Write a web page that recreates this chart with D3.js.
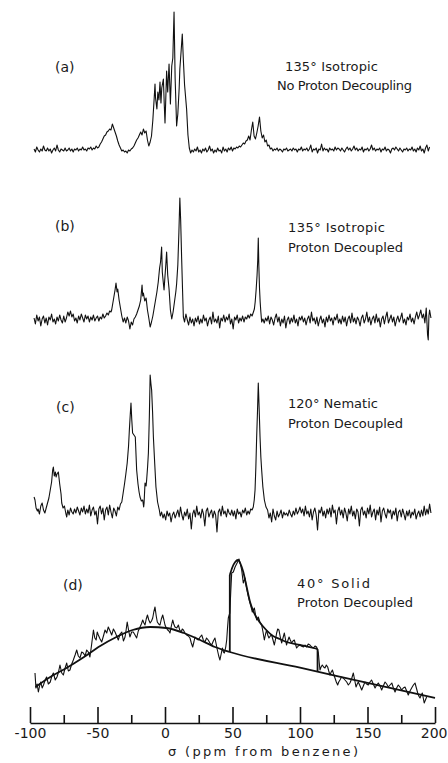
<!DOCTYPE html>
<html>
<head>
<meta charset="utf-8">
<script src="https://cdn.jsdelivr.net/npm/d3@7"></script>
<style>
body { margin: 0; background: #fff; }
svg { display: block; background: #fff; }
.trace { fill: none; stroke: #111; stroke-width: 1.1; stroke-linejoin: round; }
.fit { fill: none; stroke: #111; stroke-width: 1.8; }
.lbl { font-family: "DejaVu Sans", sans-serif; font-size: 13px; fill: #1a1a1a; }
.tag { font-family: "DejaVu Sans", sans-serif; font-size: 14px; fill: #1a1a1a; }
.axis path, .axis line { stroke: #111; stroke-width: 1.6; }
.axis text { font-family: "DejaVu Sans", sans-serif; font-size: 14px; fill: #1a1a1a; }
</style>
</head>
<body>
<div id="chart"></div>
<script>
// ---- data: [ppm, intensity above baseline] ----
var specA = [[-97,1],[-96,-2],[-95,3],[-94,0],[-93,-2],[-92,1],[-91,-1],[-90,4],[-89,0],[-88,-1],[-87,2],[-86,-1],[-85,1],[-84,-3],[-83,0],[-82,2],[-81,-1],[-80,5],[-79,0],[-78,-2],[-77,1],[-76,0],[-75,-1],[-74,2],[-73,-1],[-72,0],[-71,2],[-70,-1],[-69,1],[-68,-2],[-67,1],[-66,0],[-65,2],[-64,-1],[-63,1],[-62,0],[-61,3],[-60,0],[-59,1],[-58,-1],[-57,2],[-56,1],[-55,3],[-54,0],[-53,2],[-52,1],[-51,4],[-50,2],[-49,3],[-48,6],[-47,8],[-46,11],[-45,14],[-44,15],[-43,18],[-42,19],[-41,21],[-40,20],[-39,26],[-38,22],[-37,18],[-36,14],[-35,9],[-34,5],[-33,2],[-32,-1],[-31,0],[-30,-2],[-29,-1],[-28,-3],[-27,0],[-26,-1],[-25,1],[-24,2],[-23,4],[-22,7],[-21,10],[-20,12],[-19,15],[-18,18],[-17,15],[-16,21],[-15,17],[-14,19],[-13,10],[-12,4],[-11,8],[-10,14],[-9,30],[-8,52],[-7.4,66],[-7,52],[-6,41],[-5.3,58],[-4.5,50],[-3.7,68],[-3,47],[-2.4,62],[-1.2,71],[-0.5,44],[0,27],[0.6,52],[1.2,79],[2,58],[3,86],[4,46],[5,84],[5.8,92],[6.7,138],[7.5,72],[8.6,24],[9.5,36],[10.5,62],[11,81],[12,100],[12.8,116],[13.6,90],[14.5,65],[16,41],[17,15],[18,2],[19,-3],[20,0],[21,-2],[22,1],[23,-1],[24,3],[25,-2],[26,0],[27,-3],[28,1],[29,-1],[30,2],[31,-2],[32,0],[33,4],[34,-1],[35,1],[36,-3],[37,0],[38,-2],[39,2],[40,-1],[41,0],[42,-3],[43,3],[44,-1],[45,1],[46,-2],[47,2],[48,0],[49,3],[50,-1],[51,2],[52,1],[53,3],[54,2],[55,4],[56,3],[57,5],[58,7],[59,6],[60,9],[61,10],[62,14],[63,10],[64,20],[65,28],[66,14],[67,11],[68,17],[69,24],[70,33],[71,19],[72,12],[73,15],[74,8],[75,10],[76,4],[77,5],[78,1],[79,2],[80,-1],[81,1],[82,0],[83,2],[84,-1],[85,1],[86,0],[87,-2],[88,1],[89,0],[90,2],[91,-1],[92,0],[93,1],[94,-1],[95,2],[96,0],[97,1],[98,-2],[99,1],[100,0],[101,3],[102,-1],[103,1],[104,0],[105,2],[106,-1],[107,1],[108,5],[109,-2],[110,1],[111,0],[112,2],[113,-3],[114,1],[115,0],[116,6],[117,-1],[118,2],[119,0],[120,1],[121,-2],[122,2],[123,0],[124,1],[125,-1],[126,3],[127,0],[128,2],[129,1],[130,-1],[131,2],[132,0],[133,-2],[134,1],[135,3],[136,0],[137,2],[138,-1],[139,1],[140,4],[141,0],[142,2],[143,-1],[144,1],[145,0],[146,3],[147,-2],[148,1],[149,0],[150,2],[151,-1],[152,1],[153,5],[154,0],[155,2],[156,-1],[157,1],[158,0],[159,2],[160,-2],[161,1],[162,0],[163,3],[164,-1],[165,1],[166,0],[167,-3],[168,1],[169,2],[170,0],[171,3],[172,1],[173,-1],[174,2],[175,0],[176,-2],[177,1],[178,0],[179,2],[180,-1],[181,1],[182,0],[183,3],[184,-1],[185,1],[186,-2],[187,2],[188,0],[189,4],[190,-1],[191,1],[192,-3],[193,2],[194,5],[195,-1],[196,3]];

var specB = [[-97,2],[-96,-4],[-95,5],[-94,-1],[-93,3],[-92,-6],[-91,1],[-90,4],[-89,-3],[-88,2],[-87,-5],[-86,3],[-85,0],[-84,6],[-83,-2],[-82,1],[-81,-4],[-80,3],[-79,-1],[-78,5],[-77,0],[-76,-3],[-75,4],[-74,-2],[-73,2],[-72,8],[-71,4],[-70,9],[-69,3],[-68,6],[-67,-1],[-66,2],[-65,-3],[-64,4],[-63,0],[-62,6],[-61,2],[-60,-2],[-59,5],[-58,1],[-57,4],[-56,-2],[-55,3],[-54,0],[-53,5],[-52,-1],[-51,2],[-50,4],[-49,-1],[-48,3],[-47,1],[-46,6],[-45,2],[-44,4],[-43,7],[-42,5],[-41,9],[-40,8],[-39.5,10],[-39,14],[-38,22],[-37,30],[-36.3,37],[-35.5,28],[-35,31],[-34,20],[-33,12],[-32,4],[-31,-2],[-30,2],[-29,-3],[-28,3],[-27,-1],[-26,-9],[-25,-2],[-24,-5],[-23,1],[-22,3],[-21,6],[-20,10],[-19,14],[-18,20],[-17,35],[-16.5,24],[-16,27],[-15,19],[-14,22],[-13,10],[-12,2],[-11,-7],[-10,-2],[-9,4],[-8,12],[-7,20],[-6,28],[-5,38],[-4,52],[-3.3,58],[-2.5,73],[-2,48],[-1.3,38],[-0.7,30],[0,44],[0.6,55],[1.2,68],[2,45],[3,31],[4,10],[5,1],[6,8],[7,18],[8,28],[8.6,36],[9.5,55],[10.3,88],[11,122],[11.6,100],[12.3,63],[13,30],[13.6,3],[14.5,-2],[15.5,6],[16.5,0],[17.5,-5],[18.5,3],[19.5,-3],[20.5,1],[21.5,-6],[22.5,2],[23.5,-2],[24.5,4],[25.5,-4],[26.5,1],[27.5,-3],[28.5,5],[29.5,-1],[30.5,2],[31.5,-6],[32.5,0],[33.5,3],[34.5,-4],[35.5,8],[36.5,-2],[37.5,1],[38.5,-3],[39.5,4],[40.5,-8],[41.5,2],[42.5,-1],[43.5,5],[44.5,-2],[45.5,3],[46.5,0],[47.5,6],[48.5,-4],[49.5,1],[50.5,-9],[51.5,3],[52.5,0],[53.5,5],[54.5,-3],[55.5,2],[56.5,-1],[57.5,4],[58.5,-2],[59.5,3],[60.5,1],[61.5,5],[62.5,2],[63.5,6],[64.5,4],[65.5,8],[66.2,11],[66.8,18],[67.5,30],[68.2,45],[68.7,60],[69.1,82],[69.5,55],[70,32],[70.5,18],[71,8],[71.6,-2],[72.5,1],[73.5,-3],[74.5,2],[75.5,-1],[76.5,4],[77.5,-4],[78.5,3],[79.5,0],[80.5,-5],[81.5,2],[82.5,6],[83.5,-2],[84.5,3],[85.5,-6],[86.5,1],[87.5,-3],[88.5,4],[89.5,-8],[90.5,0],[91.5,3],[92.5,-4],[93.5,2],[94.5,-2],[95.5,5],[96.5,-3],[97.5,1],[98.5,-6],[99.5,3],[100.5,0],[101.5,4],[102.5,-2],[103.5,2],[104.5,-5],[105.5,1],[106.5,4],[107.5,-3],[108.5,8],[109.5,-1],[110.5,2],[111.5,-4],[112.5,3],[113.5,-6],[114.5,0],[115.5,4],[116.5,-3],[117.5,1],[118.5,-7],[119.5,3],[120.5,-2],[121.5,5],[122.5,-1],[123.5,2],[124.5,-5],[125.5,3],[126.5,0],[127.5,6],[128.5,-3],[129.5,1],[130.5,-4],[131.5,4],[132.5,-2],[133.5,3],[134.5,-6],[135.5,1],[136.5,4],[137.5,-3],[138.5,7],[139.5,-2],[140.5,2],[141.5,-4],[142.5,3],[143.5,0],[144.5,-6],[145.5,2],[146.5,5],[147.5,-3],[148.5,1],[149.5,8],[150.5,-2],[151.5,3],[152.5,-5],[153.5,1],[154.5,4],[155.5,-3],[156.5,6],[157.5,-2],[158.5,2],[159.5,-7],[160.5,1],[161.5,4],[162.5,-4],[163.5,3],[164.5,8],[165.5,-3],[166.5,1],[167.5,5],[168.5,-2],[169.5,3],[170.5,-6],[171.5,0],[172.5,4],[173.5,-2],[174.5,2],[175.5,7],[176.5,-3],[177.5,1],[178.5,-5],[179.5,3],[180.5,0],[181.5,6],[182.5,-2],[183.5,2],[184.5,-4],[185.5,3],[186.5,8],[187.5,1],[188.5,5],[189.5,10],[190.5,2],[191.5,6],[192.5,-3],[193.5,12],[194.5,-15],[195,-20],[195.5,4],[196,10],[197,2]];

var specC = [[-97,15],[-96.3,12],[-95.5,4],[-94.5,1],[-94,3],[-93,-2],[-92,6],[-91,9],[-90,2],[-89,-1],[-88,4],[-87,9],[-86,14],[-85,22],[-84,30],[-83.2,42],[-82.7,45],[-82,36],[-81.2,40],[-80.7,35],[-80,38],[-79,40],[-78,28],[-77,18],[-76.5,9],[-75.5,4],[-74.5,6],[-73.5,-1],[-72.8,-5],[-72,2],[-71,-3],[-70,4],[-69,0],[-68,-2],[-67,3],[-66,-1],[-65,5],[-64,1],[-63,-3],[-62,4],[-61,0],[-60,6],[-59,-2],[-58,3],[-57,-1],[-56,7],[-55,-4],[-54,2],[-53,5],[-52,-3],[-51,1],[-50,-12],[-49,3],[-48,6],[-47,-2],[-46,4],[-45,-8],[-44,2],[-43,5],[-42,-3],[-41,7],[-40,0],[-39,-6],[-38,4],[-37,1],[-36,-4],[-35,5],[-34,2],[-33,8],[-32,10],[-31,19],[-30,28],[-29,38],[-28,49],[-27,66],[-26.4,82],[-25.8,96],[-25.2,109],[-24.6,92],[-24,79],[-23,77],[-22,75],[-21,42],[-20,28],[-19.2,20],[-18.5,15],[-17.5,11],[-16.5,12],[-15.8,5],[-15.5,9],[-14.8,29],[-14,26],[-13.6,32],[-12.9,45],[-12.3,59],[-11.6,95],[-11,137],[-10.4,128],[-9.9,122],[-9.2,100],[-8.6,75],[-7.6,48],[-6.7,25],[-5.5,10],[-4.2,2],[-3.5,-4],[-2.5,0],[-1.5,-6],[-0.5,-2],[0.5,-8],[1.5,1],[2.5,-4],[3.5,-1],[4.5,-10],[5.5,-3],[6.5,0],[7.5,-6],[8.5,-2],[9.5,2],[10.5,-5],[11.5,5],[12.5,-3],[13.5,-8],[14.5,0],[15.5,-4],[16.5,3],[17.5,-7],[18.5,-1],[19.5,-17],[20.5,-2],[21.5,2],[22.5,-5],[23.5,6],[24.5,-3],[25.5,0],[26.5,-6],[27.5,3],[28.5,-2],[29.5,-14],[30.5,1],[31.5,4],[32.5,-5],[33.5,-1],[34.5,2],[35.5,-6],[36.5,1],[37.5,-3],[38.5,-20],[39.5,0],[40.5,3],[41.5,-4],[42.5,6],[43.5,-2],[44.5,1],[45.5,-5],[46.5,3],[47.5,-1],[48.5,-3],[49.5,2],[50.5,-4],[51.5,1],[52.5,-7],[53.5,3],[54.5,-2],[55.5,0],[56.5,-5],[57.5,2],[58.5,-1],[59.5,4],[60.5,-3],[61.5,1],[62.5,-2],[63.5,3],[64.5,2],[65.4,5],[66.1,12],[66.7,22],[67.3,45],[67.9,75],[68.5,100],[69.1,129],[69.7,105],[70.4,75],[71,55],[71.6,42],[72.5,25],[73.6,12],[74.8,5],[76,2],[77,-6],[78,-1],[79,-10],[80,3],[81,-4],[82,-8],[83,1],[84,-5],[85,-2],[86,2],[87,-6],[88,0],[89,-3],[90,-1],[91,-4],[92,2],[93,-2],[94,-5],[95,1],[96,-3],[97,4],[98,-2],[99,1],[100,5],[101,-1],[102,3],[103,-4],[104,6],[105,-2],[106,1],[107,-5],[108,3],[109,-8],[110,0],[111,4],[112,-3],[113,-18],[114,2],[115,-1],[116,5],[117,-4],[118,1],[119,-6],[120,3],[121,-2],[122,4],[123,-5],[124,7],[125,-1],[126,2],[127,-12],[128,1],[129,5],[130,-3],[131,2],[132,-6],[133,4],[134,-1],[135,-9],[136,3],[137,-2],[138,6],[139,-4],[140,1],[141,-7],[142,3],[143,0],[144,-14],[145,2],[146,5],[147,-3],[148,1],[149,-6],[150,4],[151,-2],[152,7],[153,-5],[154,0],[155,3],[156,-8],[157,2],[158,-3],[159,5],[160,-10],[161,1],[162,4],[163,-2],[164,-6],[165,3],[166,-1],[167,2],[168,-7],[169,1],[170,-3],[171,4],[172,-9],[173,0],[174,2],[175,-5],[176,3],[177,-2],[178,-8],[179,1],[180,-4],[181,2],[182,-6],[183,0],[184,-3],[185,3],[186,-7],[187,-2],[188,1],[189,-5],[190,2],[191,-4],[192,6],[193,-3],[194,3],[195,-2],[196,8],[197,-1]];

var specD = [[-96.3,37],[-95.6,22],[-94.7,26],[-93.8,18],[-92.9,24],[-92,28],[-91,22],[-90,25],[-88.8,30],[-87.7,33],[-86.4,26],[-85,28],[-83.8,34],[-82.7,37],[-81.3,30],[-80,33],[-78.9,38],[-77.8,45],[-76.5,37],[-75.3,35],[-74,42],[-72.8,47],[-71.6,39],[-70.4,40],[-69.1,46],[-67.9,50],[-66.6,55],[-65.4,60],[-64.2,54],[-63,52],[-61.7,58],[-60.5,57],[-59.2,54],[-58,60],[-56.8,58],[-55.6,53],[-54.3,66],[-53,80],[-52,72],[-51,70],[-50.2,78],[-49.4,75],[-48.1,71],[-46.9,68],[-45.6,74],[-44.4,80],[-43.2,77],[-42,83],[-40.7,79],[-39.5,75],[-38.2,81],[-37,78],[-35.8,74],[-34.6,70],[-33.3,76],[-32,78],[-30.8,69],[-29.6,73],[-28.8,80],[-28,88],[-27,80],[-26,73],[-24.7,78],[-23.5,78],[-22.2,75],[-21,72],[-19.8,79],[-18.5,83],[-17.5,86],[-16.5,90],[-15.6,87],[-14.8,85],[-13.9,91],[-13,95],[-12,90],[-11,87],[-10,89],[-9.1,92],[-8.3,98],[-7.4,103],[-6.5,94],[-5.7,88],[-4.7,86],[-3.7,85],[-2.7,91],[-1.7,95],[-0.8,90],[0,85],[1,82],[2,80],[2.9,79],[3.7,77],[4.7,84],[5.7,90],[6.5,86],[7.4,83],[8.7,82],[9.9,85],[10.9,80],[11.9,78],[12.8,81],[13.6,80],[14.8,77],[16,75],[17.3,74],[18.5,72],[19.5,67],[20.5,63],[21.4,68],[22.2,73],[23.5,71],[24.7,70],[26,73],[27.2,75],[28.4,70],[29.6,68],[30.8,72],[32,70],[33.3,67],[34.6,65],[35.8,69],[37,72],[37.9,66],[38.8,60],[39.8,54],[40.7,50],[41.6,56],[42.5,62],[43.3,58],[44,57],[45,63],[45.7,70],[46.3,82],[46.9,92],[48,97],[48.7,118],[49.4,137],[50.6,138],[51.9,143],[53.4,147],[54.8,151],[55.8,146],[56.8,140],[58,127],[59.3,132],[60.2,124],[61.2,117],[62.1,112],[63,107],[63.8,103],[64.7,98],[66.2,102],[67.1,95],[67.9,90],[69.1,93],[70.3,88],[71.6,85],[72.6,78],[73.6,70],[74.5,76],[75.3,80],[76.1,75],[77,72],[78,74],[79,75],[80,70],[81,65],[81.9,71],[82.7,77],[83.5,81],[84.4,80],[85.4,73],[86.4,67],[87.4,72],[88.4,77],[89.2,71],[90,65],[90.9,69],[91.9,73],[92.8,70],[93.8,67],[94.8,69],[95.8,70],[96.6,66],[97.5,62],[98.7,64],[100,65],[101.2,64],[102.5,63],[103.7,65],[104.9,63],[106.1,66],[107.4,65],[108.7,63],[109.9,62],[111.1,64],[112.3,63],[113,60],[113.6,57],[114.2,48],[114.8,40],[115.6,43],[116.5,45],[117.5,43],[118.5,42],[119.5,45],[120.5,43],[121.3,39],[122.2,35],[123.1,38],[124,40],[124.9,36],[125.9,32],[126.9,28],[127.9,25],[128.7,28],[129.6,30],[130.8,33],[132,32],[133.3,30],[134.6,28],[135.8,25],[137,27],[138.2,31],[139.5,37],[140.5,30],[141.5,23],[142.4,26],[143.2,28],[144.5,24],[145.7,20],[146.9,24],[148.1,28],[149.3,26],[150.6,25],[151.8,28],[153,30],[154.3,26],[155.6,22],[156.8,25],[158,27],[159.3,24],[160.5,20],[161.7,24],[163,28],[164.2,26],[165.4,23],[166.7,25],[168,27],[169.2,22],[170.4,18],[171.6,22],[172.8,25],[174,23],[175.3,20],[176.5,22],[177.8,23],[179,19],[180.2,15],[181.5,19],[182.7,22],[184,25],[185.2,27],[186.2,22],[187.2,17],[188,14],[188.9,12],[189.8,15],[190.6,17],[191.3,12],[192,7],[192.9,10],[193.8,13]];

// smooth fits drawn through spectrum (d)
var fitBroad = [[-96,23],[-85,33],[-73,42],[-60,53],[-48,64],[-36,73],[-24,80],[-11,83],[1,82],[14,77],[26,70],[37,63],[48,58],[100,42.3],[150,27.1],[200,12]];
var fitPowder = [[48,135],[50,143],[52,148],[54,150],[56,146],[58,138],[60,126],[63,108],[66,97],[70,88],[75,80],[80,74],[85,71],[90,68],[100,65],[110,62],[113,61]];
var powderEdges = [[[48,58],[48,135]], [[113,61],[113,38.3]]];

// labels
var panelTags = ["(a)", "(b)", "(c)", "(d)"];
var panelTitles = [
    ["135\u00b0 Isotropic", "No Proton Decoupling"],
    ["135\u00b0 Isotropic", "Proton Decoupled"],
    ["120\u00b0 Nematic", "Proton Decoupled"],
    ["40\u00b0 Solid", "Proton Decoupled"]
];
var majorTicks = [-100, -50, 0, 50, 100, 150, 200];
var minorTicks = [-75, -25, 25, 75, 125, 175];
var axisTitle = "\u03c3 (ppm from benzene)";

// ---- layout ----
var width = 448, height = 763;
var axisY = 723;

var svg = d3.select("#chart")
    .append("svg")
    .attr("width", width)
    .attr("height", height);

var x = d3.scaleLinear().domain([-100, 200]).range([30, 435]);

// one y scale per stacked trace, 1 unit = 1 px above its baseline
var panels = [
    { spec: specA, base: 150, tag: [55, 72], t1: [285, 71, 93], t2: [277, 90, 135] },
    { spec: specB, base: 320, tag: [55, 231], t1: [288, 232, 97], t2: [288, 252, 115] },
    { spec: specC, base: 512, tag: [56, 412], t1: [288, 408, 90], t2: [288, 428, 115] },
    { spec: specD, base: 710, tag: [63, 590], t1: [297, 588, 73], t2: [297, 607, 116] }
];

panels.forEach(function (p, i) {
    var y = d3.scaleLinear().domain([0, 100]).range([p.base, p.base - 100]);
    p.y = y;

    var line = d3.line()
        .x(function (d) { return x(d[0]); })
        .y(function (d) { return y(d[1]); });

    svg.append("path")
        .datum(p.spec)
        .attr("class", "trace")
        .attr("d", line);

    svg.append("text")
        .attr("class", "tag")
        .attr("x", p.tag[0]).attr("y", p.tag[1])
        .text(panelTags[i]);

    [p.t1, p.t2].forEach(function (t, j) {
        svg.append("text")
            .attr("class", "lbl")
            .attr("x", t[0]).attr("y", t[1])
            .attr("textLength", t[2]).attr("lengthAdjust", "spacing")
            .text(panelTitles[i][j]);
    });
});

// fitted curves for (d)
var yD = panels[3].y;
var smooth = d3.line()
    .x(function (d) { return x(d[0]); })
    .y(function (d) { return yD(d[1]); })
    .curve(d3.curveMonotoneX);
var straight = d3.line()
    .x(function (d) { return x(d[0]); })
    .y(function (d) { return yD(d[1]); });

svg.append("path").datum(fitBroad).attr("class", "fit").attr("d", smooth);
svg.append("path").datum(fitPowder).attr("class", "fit").attr("d", smooth);
powderEdges.forEach(function (seg) {
    svg.append("path").datum(seg).attr("class", "fit").attr("stroke-width", 1.2).attr("d", straight);
});

// x axis: tall major ticks, short minor ticks, pointing up
var axisG = svg.append("g")
    .attr("class", "axis")
    .attr("transform", "translate(0," + axisY + ")")
    .call(d3.axisBottom(x)
        .tickValues(majorTicks)
        .tickSizeInner(-16)
        .tickSizeOuter(0)
        .tickPadding(5)
        .tickFormat(function (d) { return String(d); }));

// last label sits against the right edge
axisG.selectAll(".tick text")
    .filter(function (d) { return d === 200; })
    .attr("text-anchor", "end")
    .attr("x", 447 - x(200));

svg.append("g")
    .attr("class", "axis")
    .attr("transform", "translate(0," + axisY + ")")
    .call(d3.axisBottom(x)
        .tickValues(minorTicks)
        .tickSizeInner(-8)
        .tickSizeOuter(0)
        .tickFormat(""))
    .select(".domain").remove();

svg.append("text")
    .attr("class", "lbl")
    .attr("x", 168).attr("y", 756)
    .attr("textLength", 190).attr("lengthAdjust", "spacing")
    .text(axisTitle);
</script>
</body>
</html>
